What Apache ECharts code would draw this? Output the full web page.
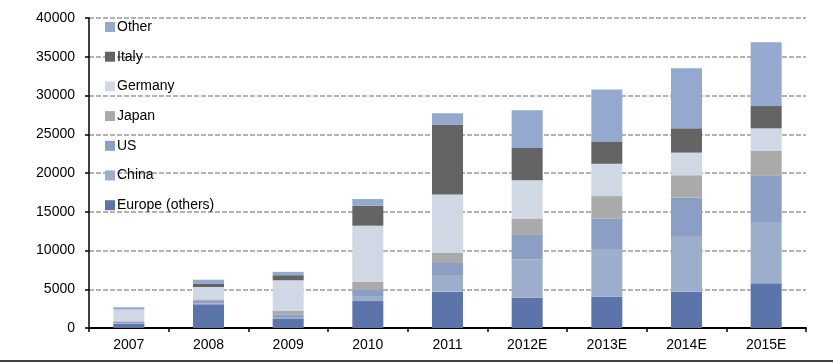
<!DOCTYPE html>
<html>
<head>
<meta charset="utf-8">
<script src="https://cdn.jsdelivr.net/npm/echarts@6/dist/echarts.min.js"></script>
<style>
html,body{margin:0;padding:0;background:#fff;}
#c{width:833px;height:363px;}
</style>
</head>
<body>
<div id="c"></div>
<script>
const years = ['2007','2008','2009','2010','2011','2012E','2013E','2014E','2015E'];
const europeOthers = [520, 3060, 1160, 3480, 4690, 3900, 4040, 4690, 5770];
const china        = [60, 100, 260, 650, 2150, 4970, 6150, 7190, 7910];
const us           = [200, 330, 340, 770, 1550, 3140, 3910, 4950, 6020];
const japan        = [90, 200, 440, 1070, 1290, 2060, 2920, 2880, 3140];
const germany      = [1510, 1600, 3960, 7230, 7530, 4990, 4170, 2920, 2920];
const italy        = [0, 460, 650, 2580, 9000, 4170, 2890, 3140, 2880];
const other        = [300, 480, 430, 860, 1500, 4860, 6710, 7740, 8220];
const yTicks = [0, 5000, 10000, 15000, 20000, 25000, 30000, 35000, 40000];

const seriesDefs = [
  {name: 'Europe (others)', data: europeOthers, color: '#5b74aa'},
  {name: 'China', data: china, color: '#9daecc'},
  {name: 'US', data: us, color: '#8a9ec6'},
  {name: 'Japan', data: japan, color: '#a9aaa9'},
  {name: 'Germany', data: germany, color: '#d0d8e6'},
  {name: 'Italy', data: italy, color: '#646464'},
  {name: 'Other', data: other, color: '#93a9d0'}
];
const legendOrder = ['Other','Italy','Germany','Japan','US','China','Europe (others)'];
const FONT = '"Liberation Sans", Arial, sans-serif';

const chart = echarts.init(document.getElementById('c'), null, {renderer: 'canvas'});
chart.setOption({
  animation: false,
  backgroundColor: '#ffffff',
  grid: {left: 89, right: 27, top: 18, bottom: 35, containLabel: false},
  legend: {
    orient: 'vertical', left: 105, top: 20, padding: 0,
    data: legendOrder,
    icon: 'rect', itemWidth: 10, itemHeight: 10, itemGap: 15.7,
    textStyle: {fontFamily: FONT, fontSize: 14, color: '#000', lineHeight: 14, padding: [0,0,0,-3]},
    selectedMode: false
  },
  xAxis: {
    type: 'category', data: years,
    axisLine: {lineStyle: {color: '#000', width: 2}},
    axisTick: {show: true, inside: false, length: 4, lineStyle: {color: '#000', width: 1.5}},
    axisLabel: {fontFamily: FONT, fontSize: 14, color: '#000', margin: 10},
    splitLine: {show: false}
  },
  yAxis: {
    type: 'value', min: yTicks[0], max: yTicks[yTicks.length-1], interval: yTicks[1]-yTicks[0],
    axisLine: {show: true, lineStyle: {color: '#000', width: 1.5}},
    axisTick: {show: true, length: 4, lineStyle: {color: '#000', width: 1.5}},
    axisLabel: {fontFamily: FONT, fontSize: 14, color: '#000', margin: 14, formatter: v => String(v)},
    splitLine: {show: true, lineStyle: {color: '#9a9a9a', width: 1.5, type: [5, 2]}}
  },
  series: seriesDefs.map(s => ({
    name: s.name, type: 'bar', stack: 'total', data: s.data, barWidth: 31,
    itemStyle: {color: s.color}
  })),
  graphic: [{
    type: 'line', shape: {x1: 0, y1: 361, x2: 833, y2: 361},
    style: {stroke: '#000', lineWidth: 1.5}, silent: true
  }]
});
</script>
</body>
</html>
